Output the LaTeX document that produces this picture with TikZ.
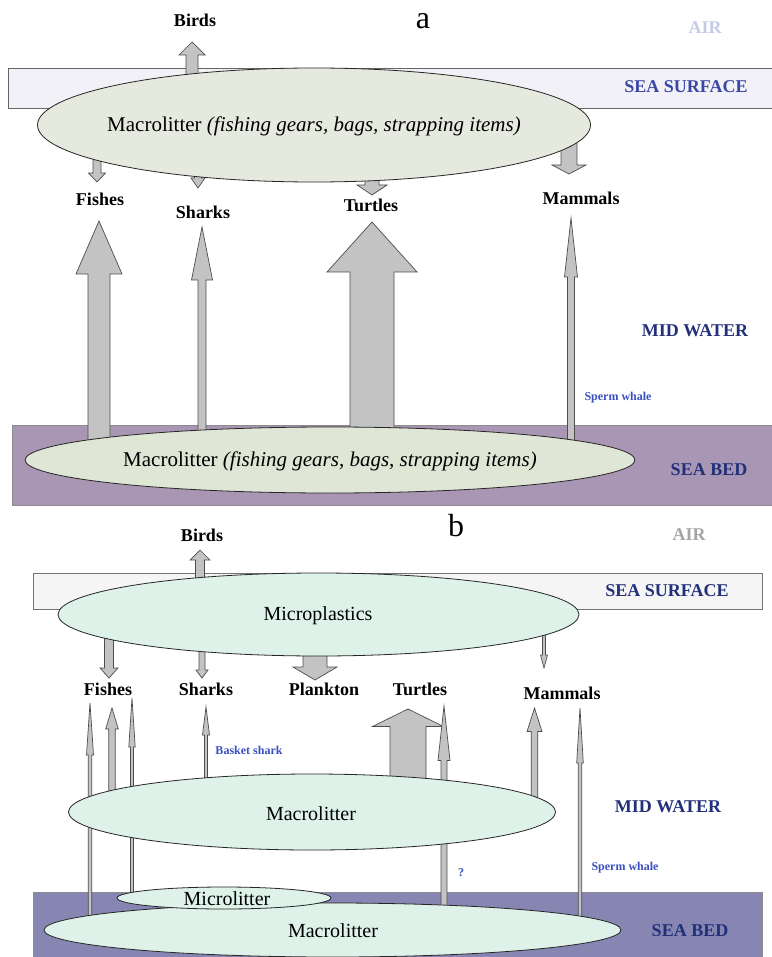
\documentclass[tikz,border=0pt]{standalone}
\usepackage{fontspec}
\setmainfont{Liberation Serif}
\usetikzlibrary{shapes.geometric}
\definecolor{arrfill}{HTML}{C3C3C3}
\definecolor{arrline}{HTML}{4D4D4D}
\definecolor{ellA}{HTML}{E6EADE}
\definecolor{ellA2}{HTML}{E0E6D6}
\definecolor{ellB}{HTML}{DEF2EA}
\definecolor{surfA}{HTML}{F3F1F8}
\definecolor{surfB}{HTML}{F5F5F5}
\definecolor{bedA}{HTML}{A896B4}
\definecolor{bedB}{HTML}{8785B2}
\definecolor{airA}{HTML}{C5CBE6}
\definecolor{airB}{HTML}{A5A5A5}
\definecolor{zoneA}{HTML}{3949A3}
\definecolor{navy}{HTML}{22307A}
\definecolor{notec}{HTML}{3A50C0}
\newcommand\blockarr[6]{%
  \filldraw[arrsty] (#1-#4,#2) -- (#1-#4,#6) -- (#1-#5,#6) -- (#1,#3) -- (#1+#5,#6) -- (#1+#4,#6) -- (#1+#4,#2) -- cycle;}
\begin{document}
\begin{tikzpicture}[x=1pt,y=-1pt,
  arrsty/.style={fill=arrfill,draw=arrline,line width=0.7pt,line join=miter},
  blob/.style={ellipse,draw=black!85,line width=0.8pt,inner sep=0pt},
  lbl/.style={font=\bfseries\fontsize{18}{20}\selectfont,inner sep=0pt},
  zone/.style={font=\bfseries\fontsize{18}{20}\selectfont,inner sep=0pt},
  note/.style={font=\bfseries\fontsize{12}{14}\selectfont,text=notec,inner sep=0pt},
  big/.style={font=\fontsize{21}{24}\selectfont,inner sep=0pt},
  mid/.style={font=\fontsize{20}{23}\selectfont,inner sep=0pt},
  panel/.style={font=\fontsize{32}{34}\selectfont,inner sep=0pt}]
\useasboundingbox (0,0) rectangle (771,957);
\fill[white] (0,0) rectangle (771,957);

% ================= panel a =================
\filldraw[fill=surfA,draw=black!60,line width=0.7pt] (8,68) rectangle (775,108);
\filldraw[fill=bedA,draw=black!45,line width=0.7pt] (12,425) rectangle (775,505);

% arrows (behind ellipses)
\blockarr{192}{80}{42}{6}{13}{55}
\blockarr{97}{150}{182}{4}{8.5}{173}
\blockarr{198}{160}{188}{3.5}{7}{178}
\blockarr{372}{170}{195}{7}{15}{185}
\blockarr{569}{140}{174}{8}{17}{165}
\blockarr{99}{445}{221}{11}{23}{274}
\blockarr{202}{440}{227}{4}{10.5}{280}
\blockarr{372}{440}{222}{22}{45}{272}
\blockarr{571}{445}{218}{3.5}{6.5}{277}

\node[blob,fill=ellA,minimum width=553,minimum height=114] (mlA) at (314,125) {};
\node[big] (mlAt) at (314,126) {Macrolitter \textit{(fishing gears, bags, strapping items)}};
\node[blob,fill=ellA2,minimum width=610,minimum height=66] (mlA2) at (330,460) {};
\node[big] (mlA2t) at (330,461) {Macrolitter \textit{(fishing gears, bags, strapping items)}};

\node[lbl] (birdsA) at (195,20) {Birds};
\node[panel] (pa) at (423,21) {a};
\node[zone,text=airA] (airA) at (705,28) {AIR};
\node[zone,text=zoneA] (surfAl) at (686,87) {SEA SURFACE};
\node[lbl] (fishA) at (100,199) {Fishes};
\node[lbl] (sharkA) at (203,212) {Sharks};
\node[lbl] (turtA) at (371,205) {Turtles};
\node[lbl] (mamA) at (581,198) {Mammals};
\node[zone,text=navy] (midA) at (695,331) {MID WATER};
\node[note] (spermA) at (618,398) {Sperm whale};
\node[zone,text=navy] (bedAl) at (709,470) {SEA BED};

% ================= panel b =================
\filldraw[fill=surfB,draw=black!55,line width=0.7pt] (33,573) rectangle (762,609);
\filldraw[fill=bedB,draw=black!45,line width=0.7pt] (33,892) rectangle (762,960);

\blockarr{200}{585}{550}{4.5}{10}{560}
\blockarr{109}{630}{678}{4.5}{9}{668}
\blockarr{202}{645}{678}{3}{6}{670}
\blockarr{315}{650}{680}{12}{22}{667}
\blockarr{544}{630}{668}{1.5}{3.5}{655}

\blockarr{90}{918}{703}{1.7}{3.5}{755}
\blockarr{112}{800}{708}{3.3}{6.3}{729}
\blockarr{132}{895}{698}{1.5}{3.2}{747}
\blockarr{206}{785}{707}{1.5}{3.5}{735}
\blockarr{408}{785}{709}{18}{35.5}{726.5}
\blockarr{444}{910}{706}{3}{6}{760.5}
\blockarr{534.5}{800}{708}{3.3}{7.5}{731.5}
\blockarr{580}{920}{708}{1.7}{3.3}{763}

\node[blob,fill=ellB,minimum width=521,minimum height=83] (micro) at (318.5,614.5) {};
\node[mid] (microt) at (318,616) {Microplastics};
\node[blob,fill=ellB,minimum width=487,minimum height=76] (mlB) at (312,812) {};
\node[mid] (mlBt) at (311,814) {Macrolitter};
\node[blob,fill=ellB,minimum width=577,minimum height=54] (mlB2) at (332.5,930) {};
\node[mid] (mlB2t) at (333,931) {Macrolitter};
\node[blob,fill=ellB,minimum width=214,minimum height=22] (mcl) at (224,898) {};
\node[mid] (mclt) at (227,899) {Microlitter};

\node[lbl] (birdsB) at (202,535) {Birds};
\node[panel] (pb) at (456,526) {b};
\node[zone,text=airB] (airB) at (689,535) {AIR};
\node[zone,text=navy] (surfBl) at (667,591) {SEA SURFACE};
\node[lbl] (fishB) at (108,689) {Fishes};
\node[lbl] (sharkB) at (206,689) {Sharks};
\node[lbl] (plankB) at (324,689) {Plankton};
\node[lbl] (turtB) at (420,689) {Turtles};
\node[lbl] (mamB) at (562,693) {Mammals};
\node[note] (basket) at (249,750) {Basket shark};
\node[zone,text=navy] (midB) at (668,807) {MID WATER};
\node[note] (q) at (461,873) {?};
\node[note] (spermB) at (625,868) {Sperm whale};
\node[zone,text=navy] (bedBl) at (690,931) {SEA BED};
\end{tikzpicture}
\end{document}
